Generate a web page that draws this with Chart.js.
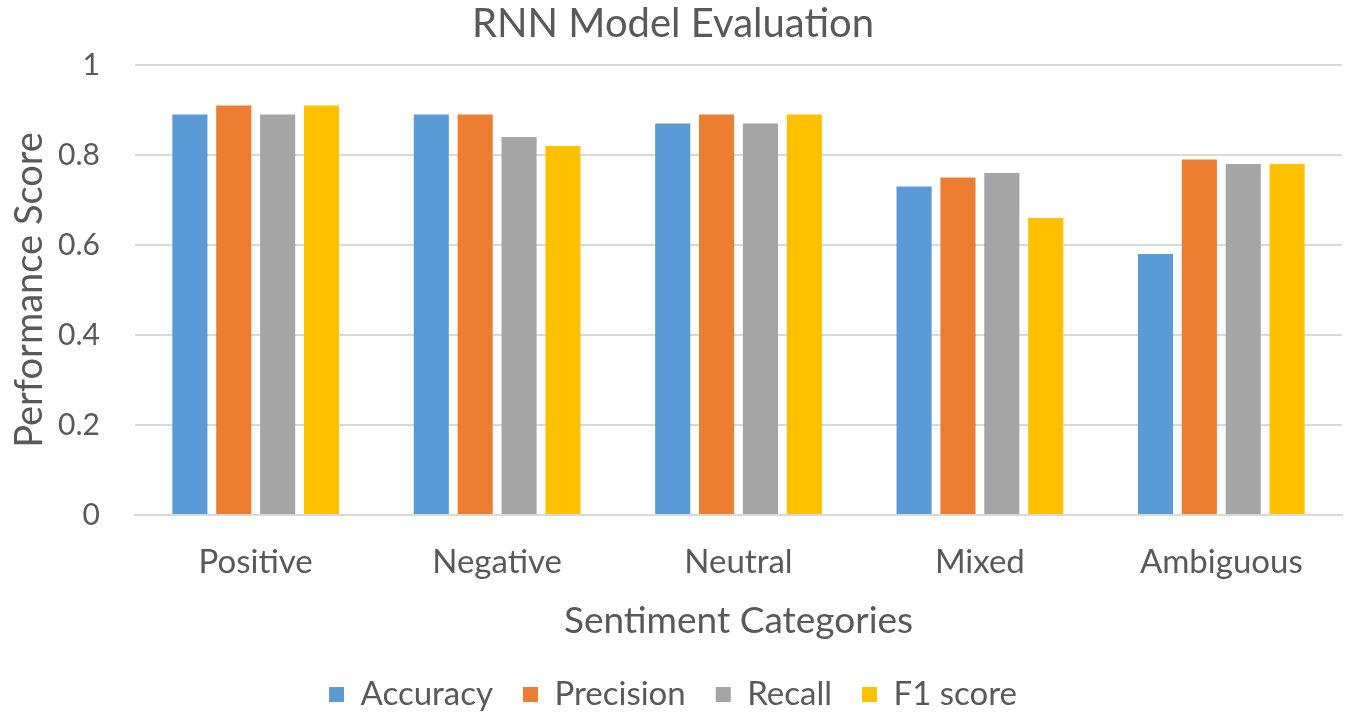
<!DOCTYPE html>
<html>
<head>
<meta charset="utf-8">
<script src="https://cdn.jsdelivr.net/npm/chart.js@4.4.0/dist/chart.umd.min.js"></script>
<style>
html,body{margin:0;padding:0;background:#fff;}
#wrap{width:1350px;height:721px;position:relative;}
</style>
</head>
<body>
<div id="wrap"><canvas id="c"></canvas></div>
<script>
const categories = ["Positive", "Negative", "Neutral", "Mixed", "Ambiguous"];
const accuracy  = [0.89, 0.89, 0.87, 0.73, 0.58];
const precision = [0.91, 0.89, 0.89, 0.75, 0.79];
const recall    = [0.89, 0.84, 0.87, 0.76, 0.78];
const f1score   = [0.91, 0.82, 0.89, 0.66, 0.78];
const seriesNames = ["Accuracy", "Precision", "Recall", "F1 score"];
const colors = ["#5B9BD5", "#ED7D31", "#A5A5A5", "#FFC000"];
const FONT = "Lato, 'Open Sans', sans-serif";
const TXT = "#595959";

const data = {
  labels: categories,
  datasets: [accuracy, precision, recall, f1score].map((v, i) => ({
    label: seriesNames[i],
    data: v,
    backgroundColor: colors[i],
    borderWidth: 0,
    categoryPercentage: 0.727,
    barPercentage: 0.8
  }))
};

new Chart(document.getElementById('c'), {
  type: 'bar',
  data,
  options: {
    responsive: true,
    maintainAspectRatio: false,
    animation: false,
    layout: { padding: { left: 4, right: 8, top: 0, bottom: 0 } },
    plugins: {
      title: {
        display: true,
        text: "RNN Model Evaluation",
        color: TXT,
        font: { family: FONT, size: 40, weight: 'normal' },
        padding: { top: 0, bottom: 17 }
      },
      legend: {
        position: 'bottom',
        labels: {
          color: TXT,
          font: { family: FONT, size: 33 },
          boxWidth: 15,
          boxHeight: 15,
          padding: 30
        }
      },
      tooltip: { enabled: false }
    },
    scales: {
      x: {
        grid: { display: false, drawTicks: false },
        border: { color: "#D9D9D9", width: 2 },
        ticks: { color: TXT, font: { family: FONT, size: 33 }, padding: 28 },
        title: {
          display: true,
          text: "Sentiment Categories",
          color: TXT,
          font: { family: FONT, size: 37 },
          padding: { top: -12, bottom: 5 }
        }
      },
      y: {
        min: 0,
        max: 1,
        afterFit: scale => { scale.width = 131; },
        ticks: {
          stepSize: 0.2,
          color: TXT,
          font: { family: FONT, size: 30 },
          padding: 35,
          callback: v => String(Math.round(v * 10) / 10)
        },
        grid: { color: "#D9D9D9", lineWidth: 2, drawTicks: false },
        border: { display: false },
        title: {
          display: true,
          text: "Performance Score",
          color: TXT,
          font: { family: FONT, size: 38 },
          padding: { top: 3, bottom: 4 }
        }
      }
    }
  }
});
</script>
</body>
</html>
